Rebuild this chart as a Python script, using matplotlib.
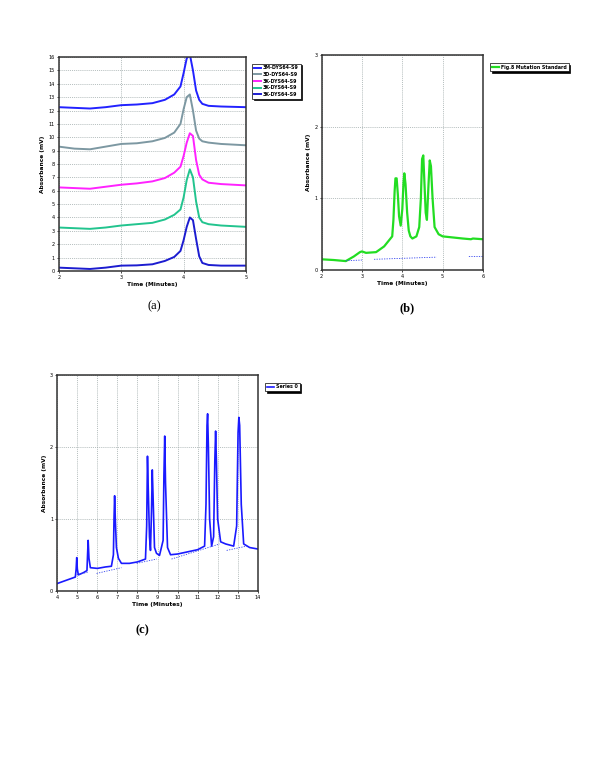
#!/usr/bin/env python3
"""Chromatogram panels (a), (b), (c)."""

import matplotlib

matplotlib.use("Agg")
import matplotlib.pyplot as plt
import numpy as np

# ---- panel (a): five stacked traces --------------------------------------
TIME_A = [2.0, 2.25, 2.5, 2.75, 3.0, 3.25, 3.5, 3.7, 3.85, 3.95,
          4.0, 4.05, 4.1, 4.15, 4.2, 4.25, 4.3, 4.4, 4.6, 5.0]
TRACE_A_TOP = [12.25, 12.2, 12.15, 12.25, 12.4, 12.45, 12.55, 12.8, 13.2, 13.8,
               14.8, 15.9, 16.2, 15.0, 13.5, 12.8, 12.5, 12.35, 12.3, 12.25]
TRACE_A_GREY = [9.3, 9.15, 9.1, 9.3, 9.5, 9.55, 9.7, 9.95, 10.35, 11.0,
                12.1, 13.0, 13.2, 12.0, 10.5, 9.9, 9.7, 9.6, 9.5, 9.4]
TRACE_A_MAGENTA = [6.25, 6.2, 6.15, 6.3, 6.45, 6.55, 6.7, 6.95, 7.35, 7.8,
                   8.6, 9.6, 10.3, 10.1, 8.3, 7.2, 6.85, 6.6, 6.5, 6.4]
TRACE_A_GREEN = [3.25, 3.2, 3.15, 3.25, 3.4, 3.5, 3.6, 3.85, 4.2, 4.6,
                 5.5, 6.8, 7.6, 7.0, 5.2, 4.0, 3.65, 3.5, 3.4, 3.3]
TRACE_A_BOTTOM = [0.25, 0.2, 0.15, 0.25, 0.4, 0.42, 0.5, 0.75, 1.05, 1.5,
                  2.3, 3.3, 4.0, 3.8, 2.4, 1.1, 0.6, 0.45, 0.4, 0.4]
LABELS_A = ["3M-DYS64-S9", "3D-DYS64-S9", "3K-DYS64-S9", "3K-DYS64-S9", "3K-DYS64-S9"]
COLORS_A = ["#2222ff", "#7d98a2", "#ff22ff", "#22c48e", "#1c1cd0"]

# ---- panel (b): mutation standard ----------------------------------------
TIME_B = [2.0, 2.3, 2.6, 2.8, 2.95, 3.0, 3.1, 3.35, 3.55, 3.75,
          3.78, 3.81, 3.83, 3.86, 3.89, 3.92, 3.96, 4.0, 4.03, 4.05,
          4.08, 4.12, 4.16, 4.2, 4.25, 4.35, 4.42, 4.46, 4.49, 4.52,
          4.55, 4.58, 4.61, 4.65, 4.68, 4.71, 4.75, 4.8, 4.9, 5.0,
          5.5, 5.7, 5.75, 6.0]
TRACE_B = [0.15, 0.14, 0.125, 0.19, 0.25, 0.26, 0.24, 0.25, 0.33, 0.47,
           0.7, 1.1, 1.28, 1.28, 1.05, 0.75, 0.62, 0.85, 1.22, 1.35,
           1.2, 0.8, 0.55, 0.47, 0.44, 0.47, 0.6, 1.0, 1.55, 1.6,
           1.2, 0.8, 0.7, 1.2, 1.53, 1.45, 1.0, 0.6, 0.5, 0.47,
           0.44, 0.43, 0.44, 0.43]
BASE_B_TIME = [2.6, 3.0, np.nan, 3.3, 4.85, np.nan, 5.65, 6.0]
BASE_B = [0.13, 0.14, np.nan, 0.15, 0.18, np.nan, 0.19, 0.19]

# ---- panel (c): Series 0 --------------------------------------------------
TIME_C = [4.0, 4.5, 4.9, 4.94, 4.97, 5.0, 5.05, 5.3, 5.48, 5.51,
          5.54, 5.58, 5.65, 6.0, 6.4, 6.7, 6.8, 6.83, 6.86, 6.9,
          6.95, 7.05, 7.2, 7.6, 8.0, 8.4, 8.46, 8.5, 8.54, 8.6,
          8.65, 8.7, 8.74, 8.78, 8.85, 8.95, 9.1, 9.28, 9.32, 9.36,
          9.4, 9.5, 9.65, 10.0, 10.5, 11.0, 11.35, 11.42, 11.47, 11.5,
          11.54, 11.6, 11.7, 11.8, 11.86, 11.9, 11.94, 12.0, 12.15, 12.4,
          12.8, 12.95, 13.02, 13.06, 13.1, 13.18, 13.3, 13.6, 14.0]
TRACE_C = [0.10, 0.15, 0.19, 0.3, 0.46, 0.3, 0.22, 0.25, 0.28, 0.5,
           0.70, 0.45, 0.32, 0.31, 0.33, 0.34, 0.5, 1.0, 1.32, 0.95,
           0.6, 0.45, 0.38, 0.38, 0.40, 0.44, 0.9, 1.87, 1.4, 0.75,
           0.56, 1.1, 1.68, 1.3, 0.6, 0.52, 0.49, 0.7, 1.6, 2.15,
           1.5, 0.6, 0.5, 0.51, 0.54, 0.57, 0.62, 1.2, 2.3, 2.46,
           2.0, 1.0, 0.62, 0.75, 1.8, 2.22, 1.8, 1.0, 0.68, 0.65,
           0.62, 0.9, 2.2, 2.41, 2.3, 1.2, 0.65, 0.6, 0.58]
BASE_C_TIME = [4.97, 5.55, np.nan, 5.96, 7.2, np.nan, 7.96, 8.96, np.nan,
               9.7, 12.1, np.nan, 12.45, 13.45]
BASE_C = [0.22, 0.26, np.nan, 0.24, 0.32, np.nan, 0.38, 0.44, np.nan,
          0.44, 0.65, np.nan, 0.56, 0.62]

TICK_SIZE = 3.6
LABEL_SIZE = 4.2
SERIF = ["Liberation Serif", "DejaVu Serif"]


def style_axes(ax, xlim, ylim, xticks, yticks):
    ax.set_xlim(*xlim)
    ax.set_ylim(*ylim)
    ax.set_xticks(xticks)
    ax.set_yticks(yticks)
    ax.tick_params(axis="both", labelsize=TICK_SIZE, length=1.5, width=0.5, pad=1.5)
    ax.grid(color="#9aa6a6", linestyle=(0, (1.5, 1.5)), linewidth=0.5)
    for spine in ax.spines.values():
        spine.set_linewidth(1.1)
        spine.set_color("#333333")
    ax.set_xlabel("Time (Minutes)", fontsize=LABEL_SIZE, fontweight="bold", labelpad=1.5)
    ax.set_ylabel("Absorbance (mV)", fontsize=LABEL_SIZE, fontweight="bold", labelpad=2)


def add_legend(fig, ax, anchor):
    leg = ax.legend(loc="upper left", bbox_to_anchor=anchor, bbox_transform=fig.transFigure,
                    fontsize=3.4, frameon=True, fancybox=False,
                    shadow={"color": "black", "alpha": 1.0, "ox": 1.2, "oy": -1.2},
                    edgecolor="black", handlelength=1.6, handletextpad=0.4,
                    borderpad=0.35, labelspacing=0.35, borderaxespad=0)
    leg.get_frame().set_linewidth(0.5)
    for text in leg.get_texts():
        text.set_fontweight("bold")


def main():
    fig = plt.figure(figsize=(6.0, 7.76), dpi=100)

    # (a)
    ax_a = fig.add_axes([0.098, 0.6508, 0.312, 0.2757])
    traces = [TRACE_A_TOP, TRACE_A_GREY, TRACE_A_MAGENTA, TRACE_A_GREEN, TRACE_A_BOTTOM]
    for trace, color, label in zip(traces, COLORS_A, LABELS_A):
        ax_a.plot(TIME_A, trace, color=color, linewidth=1.4, label=label)
    style_axes(ax_a, (2, 5), (0, 16), [2, 3, 4, 5], range(0, 17))
    add_legend(fig, ax_a, (0.42, 0.918))
    fig.text(0.258, 0.605, "(a)", fontsize=9, family=SERIF, ha="center", va="center")

    # (b)
    ax_b = fig.add_axes([0.536, 0.652, 0.269, 0.277])
    ax_b.plot(TIME_B, TRACE_B, color="#22dd22", linewidth=1.6, label="Fig.8 Mutation Standard")
    ax_b.plot(BASE_B_TIME, BASE_B, color="#3344ee", linewidth=0.6, linestyle=(0, (1.5, 1.5)))
    style_axes(ax_b, (2, 6), (0, 3), [2, 3, 4, 5, 6], [0, 1, 2, 3])
    add_legend(fig, ax_b, (0.817, 0.919))
    fig.text(0.678, 0.603, "(b)", fontsize=9, fontweight="bold", family=SERIF,
             ha="center", va="center")

    # (c)
    ax_c = fig.add_axes([0.0955, 0.2388, 0.334, 0.278])
    ax_c.plot(TIME_C, TRACE_C, color="#1a1aff", linewidth=1.2, label="Series 0")
    ax_c.plot(BASE_C_TIME, BASE_C, color="#3344ee", linewidth=0.6, linestyle=(0, (1.5, 1.5)))
    style_axes(ax_c, (4, 14), (0, 3), range(4, 15), [0, 1, 2, 3])
    add_legend(fig, ax_c, (0.442, 0.507))
    fig.text(0.237, 0.188, "(c)", fontsize=9, fontweight="bold", family=SERIF,
             ha="center", va="center")

    fig.savefig("out.png", dpi=100, facecolor="white")
    plt.close(fig)


if __name__ == "__main__":
    main()
